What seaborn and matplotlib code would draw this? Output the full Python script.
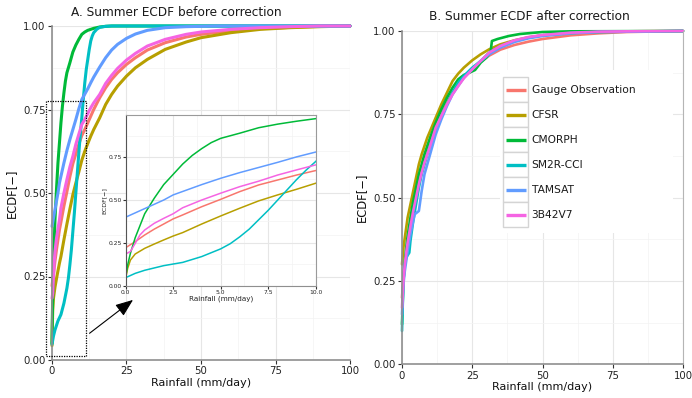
import numpy as np
import pandas as pd
import matplotlib
matplotlib.use("Agg")
import matplotlib.pyplot as plt
from matplotlib.patches import Rectangle
from matplotlib.ticker import MultipleLocator
import seaborn as sns

# ---------------- data ----------------
products = ["Gauge Observation", "CFSR", "CMORPH", "SM2R-CCI", "TAMSAT", "3B42V7"]
colors = ["#F8766D", "#B79F00", "#00BA38", "#00BFC4", "#619CFF", "#F564E3"]

# Before correction (x = rainfall mm/day, y = ECDF)
gauge_before_x = [0, 0.5, 1, 1.5, 2, 2.5, 3, 4, 5, 6, 7, 8, 9, 10, 11, 12, 13, 14, 16, 18, 20, 22, 25, 28, 32, 38, 45, 50, 60, 70, 80, 90, 100]
gauge_before_y = [0.222, 0.257, 0.296, 0.33, 0.36, 0.39, 0.413, 0.461, 0.504, 0.549, 0.588, 0.617, 0.646, 0.672, 0.69, 0.71, 0.73, 0.75, 0.785, 0.815, 0.84, 0.86, 0.885, 0.905, 0.928, 0.95, 0.967, 0.975, 0.986, 0.992, 0.996, 0.999, 1.0]
cfsr_before_x = [0, 0.1, 0.25, 0.5, 1, 1.5, 2, 2.5, 3, 4, 5, 6, 7, 8, 9, 10, 11, 12, 13, 14, 16, 18, 20, 22, 25, 28, 32, 38, 45, 50, 60, 70, 80, 90, 100]
cfsr_before_y = [0.043, 0.1, 0.15, 0.185, 0.218, 0.243, 0.267, 0.29, 0.31, 0.36, 0.407, 0.452, 0.495, 0.53, 0.563, 0.598, 0.625, 0.648, 0.67, 0.69, 0.725, 0.765, 0.795, 0.82, 0.85, 0.875, 0.9, 0.93, 0.952, 0.965, 0.98, 0.99, 0.995, 0.998, 1.0]
cmorph_before_x = [0, 0.1, 0.25, 0.5, 0.75, 1, 1.5, 2, 2.5, 3, 3.5, 4, 4.5, 5, 6, 7, 8, 9, 10, 11, 12, 14, 16, 18, 20, 100]
cmorph_before_y = [0.05, 0.12, 0.19, 0.28, 0.35, 0.42, 0.51, 0.59, 0.65, 0.71, 0.76, 0.8, 0.835, 0.86, 0.89, 0.922, 0.943, 0.96, 0.975, 0.982, 0.987, 0.993, 0.997, 0.999, 1.0, 1.0]
sm2r_before_x = [0, 0.5, 1, 2, 3, 4, 5, 5.5, 6, 6.5, 7, 7.5, 8, 8.5, 9, 9.5, 10, 10.5, 11, 11.5, 12, 12.5, 13, 13.5, 14, 15, 16, 18, 20, 100]
sm2r_before_y = [0.047, 0.072, 0.09, 0.117, 0.136, 0.17, 0.215, 0.245, 0.285, 0.33, 0.385, 0.44, 0.5, 0.56, 0.62, 0.675, 0.725, 0.78, 0.83, 0.87, 0.9, 0.93, 0.955, 0.97, 0.98, 0.99, 0.996, 0.999, 1.0, 1.0]
tamsat_before_x = [0, 0.5, 1, 1.5, 2, 2.5, 3, 4, 5, 6, 7, 8, 9, 10, 11, 12, 13, 14, 16, 18, 20, 22, 25, 28, 32, 38, 45, 55, 100]
tamsat_before_y = [0.4, 0.425, 0.45, 0.475, 0.5, 0.53, 0.55, 0.59, 0.627, 0.66, 0.69, 0.72, 0.752, 0.78, 0.796, 0.812, 0.83, 0.847, 0.877, 0.905, 0.928, 0.945, 0.963, 0.976, 0.987, 0.995, 0.998, 1.0, 1.0]
trmm_before_x = [0, 0.25, 0.5, 0.75, 1, 1.5, 2, 2.5, 3, 4, 5, 6, 7, 8, 9, 10, 11, 12, 13, 14, 16, 18, 20, 22, 25, 28, 32, 38, 45, 50, 60, 70, 80, 90, 100]
trmm_before_y = [0.185, 0.2, 0.247, 0.296, 0.325, 0.364, 0.393, 0.42, 0.455, 0.5, 0.54, 0.578, 0.61, 0.646, 0.676, 0.705, 0.72, 0.738, 0.755, 0.77, 0.795, 0.828, 0.852, 0.873, 0.898, 0.918, 0.94, 0.96, 0.975, 0.982, 0.99, 0.995, 0.998, 1.0, 1.0]

# After correction
gauge_after_x = [0, 0.5, 1, 1.5, 2, 3, 4, 5, 6, 7, 8, 9, 10, 12, 14, 16, 18, 20, 22, 25, 28, 31, 35, 40, 45, 50, 60, 70, 80, 100]
gauge_after_y = [0.2, 0.26, 0.3, 0.33, 0.36, 0.41, 0.46, 0.5, 0.54, 0.575, 0.605, 0.635, 0.66, 0.71, 0.75, 0.785, 0.815, 0.84, 0.86, 0.885, 0.908, 0.926, 0.944, 0.958, 0.968, 0.976, 0.987, 0.993, 0.997, 1.0]
cfsr_after_x = [0, 0.5, 1, 1.5, 2, 3, 4, 5, 6, 7, 8, 9, 10, 12, 14, 16, 18, 20, 22, 25, 28, 31, 35, 40, 45, 50, 60, 70, 80, 100]
cfsr_after_y = [0.3, 0.35, 0.38, 0.41, 0.44, 0.48, 0.52, 0.56, 0.6, 0.63, 0.655, 0.68, 0.7, 0.74, 0.78, 0.815, 0.85, 0.872, 0.89, 0.912, 0.93, 0.945, 0.96, 0.972, 0.981, 0.987, 0.994, 0.997, 0.999, 1.0]
cmorph_after_x = [0, 0.5, 1, 1.5, 2, 3, 4, 5, 6, 7, 8, 9, 10, 12, 14, 16, 18, 20, 22, 24, 26, 28, 30, 31.5, 32, 34, 38, 42, 50, 60, 100]
cmorph_after_y = [0.12, 0.25, 0.31, 0.35, 0.385, 0.44, 0.49, 0.53, 0.57, 0.6, 0.63, 0.655, 0.68, 0.725, 0.765, 0.8, 0.83, 0.855, 0.868, 0.875, 0.883, 0.905, 0.92, 0.935, 0.97, 0.976, 0.985, 0.991, 0.997, 0.999, 1.0]
sm2r_after_x = [0, 0.5, 1, 1.5, 2.6, 3, 4, 5, 6, 7, 8, 9, 10, 12, 14, 16, 18, 20, 22, 25, 28, 31, 35, 40, 45, 50, 60, 70, 100]
sm2r_after_y = [0.1, 0.25, 0.3, 0.32, 0.335, 0.37, 0.43, 0.48, 0.53, 0.57, 0.6, 0.63, 0.655, 0.705, 0.745, 0.78, 0.815, 0.845, 0.865, 0.89, 0.91, 0.935, 0.955, 0.97, 0.98, 0.987, 0.994, 0.997, 1.0]
tamsat_after_x = [0, 0.5, 1, 1.5, 2, 3, 4, 4.5, 6, 7, 8, 9, 10, 12, 14, 16, 18, 20, 22, 25, 28, 31, 35, 40, 45, 50, 60, 70, 100]
tamsat_after_y = [0.15, 0.24, 0.28, 0.31, 0.34, 0.39, 0.43, 0.45, 0.46, 0.52, 0.57, 0.6, 0.63, 0.69, 0.735, 0.775, 0.81, 0.835, 0.86, 0.885, 0.91, 0.93, 0.95, 0.967, 0.978, 0.985, 0.993, 0.997, 1.0]
trmm_after_x = [0, 0.5, 1, 1.5, 2, 3, 4, 5, 6, 7, 8, 9, 10, 12, 14, 16, 18, 20, 22, 25, 28, 31, 35, 40, 45, 50, 60, 70, 80, 100]
trmm_after_y = [0.17, 0.25, 0.3, 0.335, 0.365, 0.415, 0.46, 0.5, 0.54, 0.575, 0.605, 0.63, 0.655, 0.71, 0.745, 0.78, 0.81, 0.835, 0.858, 0.885, 0.91, 0.935, 0.955, 0.972, 0.982, 0.988, 0.995, 0.998, 0.999, 1.0]

before = {
    "Gauge Observation": (gauge_before_x, gauge_before_y),
    "CFSR": (cfsr_before_x, cfsr_before_y),
    "CMORPH": (cmorph_before_x, cmorph_before_y),
    "SM2R-CCI": (sm2r_before_x, sm2r_before_y),
    "TAMSAT": (tamsat_before_x, tamsat_before_y),
    "3B42V7": (trmm_before_x, trmm_before_y),
}
after = {
    "Gauge Observation": (gauge_after_x, gauge_after_y),
    "CFSR": (cfsr_after_x, cfsr_after_y),
    "CMORPH": (cmorph_after_x, cmorph_after_y),
    "SM2R-CCI": (sm2r_after_x, sm2r_after_y),
    "TAMSAT": (tamsat_after_x, tamsat_after_y),
    "3B42V7": (trmm_after_x, trmm_after_y),
}


def to_long(d):
    rows = []
    for p in products:
        xs, ys = d[p]
        for x, y in zip(xs, ys):
            rows.append({"Product": p, "Rainfall": x, "ECDF": y})
    return pd.DataFrame(rows)


df_before = to_long(before)
df_after = to_long(after)
palette = dict(zip(products, colors))

# ---------------- style ----------------
sns.set_theme(style="white")
plt.rcParams["font.family"] = ["DejaVu Sans"]

W, H = 692, 398
fig = plt.figure(figsize=(W / 100, H / 100), dpi=100)


def rect(x0, y0, x1, y1):
    return [x0 / W, 1 - y1 / H, (x1 - x0) / W, (y1 - y0) / H]


def fx(x):
    return x / W


def fy(y):
    return 1 - y / H


GRID_MAJ = "#e6e6e6"
GRID_MIN = "#f3f3f3"
SPINE = "#8f8f8f"


def style_axes(ax, xmaj, xmin, ymaj, ymin, xlim, ylim, tick_fs, fmt_x, fmt_y, lw_spine=1.2):
    ax.set_xlim(*xlim)
    ax.set_ylim(*ylim)
    ax.xaxis.set_major_locator(MultipleLocator(xmaj))
    ax.xaxis.set_minor_locator(MultipleLocator(xmin))
    ax.yaxis.set_major_locator(MultipleLocator(ymaj))
    ax.yaxis.set_minor_locator(MultipleLocator(ymin))
    ax.grid(True, which="major", color=GRID_MAJ, lw=0.8, zorder=0)
    ax.grid(True, which="minor", color=GRID_MIN, lw=0.5, zorder=0)
    ax.set_axisbelow(True)
    for s in ["top", "right"]:
        ax.spines[s].set_visible(False)
    for s in ["left", "bottom"]:
        ax.spines[s].set_color(SPINE)
        ax.spines[s].set_linewidth(lw_spine)
    ax.tick_params(which="major", direction="out", length=3, width=0.8, color="#333333",
                   labelsize=tick_fs, labelcolor="#222222", pad=1.5,
                   bottom=True, left=True)
    ax.tick_params(which="minor", length=0)
    ax.xaxis.set_major_formatter(plt.FuncFormatter(lambda v, p: fmt_x.format(v)))
    ax.yaxis.set_major_formatter(plt.FuncFormatter(lambda v, p: fmt_y.format(v)))
    ax.set_facecolor("white")


# ---------------- panel A ----------------
axA = fig.add_axes(rect(52, 26, 350, 360))
sns.lineplot(data=df_before, x="Rainfall", y="ECDF", hue="Product", hue_order=products,
             palette=palette, estimator=None, sort=True, lw=2.2, legend=False, ax=axA)
style_axes(axA, 25, 12.5, 0.25, 0.125, (0, 100), (0, 1), 7.3, "{:.0f}", "{:.2f}")
axA.set_xlabel("Rainfall (mm/day)", fontsize=8, color="#111111", labelpad=1)
axA.set_ylabel("ECDF[\u2212]", fontsize=8.3, color="#111111", labelpad=4)
for l in axA.lines:
    l.set_clip_on(False)
    l.set_solid_joinstyle("round")

# dotted zoom rectangle and arrow
axA.add_patch(Rectangle((-2, 0.013), 13.3, 0.762, fill=False, ls=(0, (1, 1)),
                        lw=0.9, ec="black", clip_on=False, zorder=5))
axA.annotate("", xy=(27.2, 0.18), xytext=(12.6, 0.08),
             arrowprops=dict(arrowstyle="-|>,head_length=0.9,head_width=0.35",
                             color="black", lw=0.8, shrinkA=0, shrinkB=0),
             zorder=6)

# inset
axI = fig.add_axes(rect(125.7, 114.7, 315.7, 285.7))
sns.lineplot(data=df_before, x="Rainfall", y="ECDF", hue="Product", hue_order=products,
             palette=palette, estimator=None, sort=True, lw=1.1, legend=False, ax=axI)
style_axes(axI, 2.5, 1.25, 0.25, 0.125, (0, 10), (0, 0.998), 4.3, "{:.1f}", "{:.2f}", lw_spine=0.8)
axI.yaxis.set_major_locator(plt.FixedLocator([0, 0.25, 0.5, 0.75]))
for s in ["top", "right"]:
    axI.spines[s].set_visible(True)
    axI.spines[s].set_color("#9a9a9a")
    axI.spines[s].set_linewidth(0.8)
axI.spines["left"].set_color("#555555")
axI.tick_params(which="major", length=2, pad=1)
axI.set_xlabel("Rainfall (mm/day)", fontsize=5.2, color="#222222", labelpad=0.5)
axI.set_ylabel("ECDF[\u2212]", fontsize=4.5, color="#222222", labelpad=1)

# ---------------- panel B ----------------
axB = fig.add_axes(rect(402, 31, 683, 364.3))
sns.lineplot(data=df_after, x="Rainfall", y="ECDF", hue="Product", hue_order=products,
             palette=palette, estimator=None, sort=True, lw=1.9, legend=False, ax=axB)
style_axes(axB, 25, 12.5, 0.25, 0.125, (0, 100), (0, 1), 7.3, "{:.0f}", "{:.2f}")
axB.spines["right"].set_visible(True)
axB.spines["right"].set_color("#b5b5b5")
axB.spines["right"].set_linewidth(0.8)
axB.set_xlabel("Rainfall (mm/day)", fontsize=8, color="#111111", labelpad=1)
axB.set_ylabel("ECDF[\u2212]", fontsize=8.3, color="#111111", labelpad=4)
for l in axB.lines:
    l.set_clip_on(False)
    l.set_solid_joinstyle("round")

# legend (ggplot-like keys)
fig.patches.append(Rectangle((fx(500), fy(233)), (672.7 - 500) / W, (233 - 70) / H,
                             transform=fig.transFigure, fc="white", ec="none", zorder=10))
for i, (p, c) in enumerate(zip(products, colors)):
    top = 77.3 + 25 * i
    fig.patches.append(Rectangle((fx(503.3), fy(top + 25)), 25 / W, 25 / H,
                                 transform=fig.transFigure, fc="white", ec="#d4d4d4",
                                 lw=1.0, zorder=11))
    fig.lines.append(plt.Line2D([fx(506), fx(526)], [fy(top + 12.5)] * 2,
                                transform=fig.transFigure, color=c, lw=2.4,
                                solid_capstyle="butt", zorder=12))
    fig.text(fx(531.5), fy(top + 12.5), p, fontsize=7.7, va="center", ha="left",
             color="#1a1a1a", zorder=12)

# titles
fig.text(fx(176.5), fy(13), "A. Summer ECDF before correction", fontsize=8.7,
         ha="center", va="center", color="#1a1a1a")
fig.text(fx(529), fy(16.7), "B. Summer ECDF after correction", fontsize=8.7,
         ha="center", va="center", color="#1a1a1a")

fig.savefig("out.png", dpi=100, facecolor="white")
